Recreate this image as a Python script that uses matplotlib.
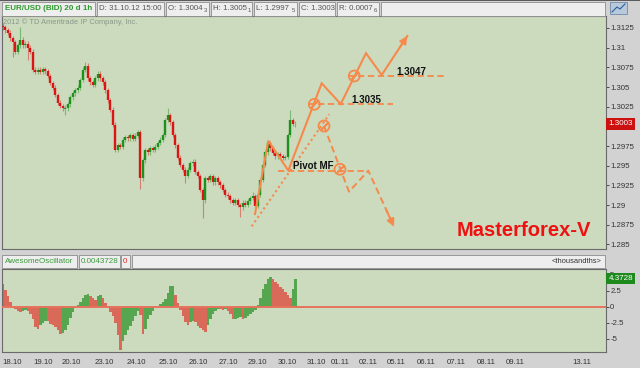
import matplotlib
matplotlib.use('Agg')
import matplotlib.pyplot as plt
import matplotlib.transforms as mtrans
from matplotlib.patches import Rectangle
import numpy as np

plt.rcParams['font.family'] = ['Liberation Sans', 'DejaVu Sans']

# ---------------- data ----------------
first_open = 1.3128
closes = [1.3126, 1.3122, 1.3119, 1.3112, 1.3107, 1.3095, 1.3103, 1.3110, 1.3103, 1.3105,
          1.3100, 1.3095, 1.3072, 1.3069, 1.3072, 1.3069, 1.3073, 1.3070, 1.3064, 1.3055,
          1.3049, 1.3040, 1.3030, 1.3026, 1.3023, 1.3023, 1.3028, 1.3037, 1.3042, 1.3046,
          1.3049, 1.3059, 1.3072, 1.3077, 1.3061, 1.3056, 1.3053, 1.3061, 1.3067, 1.3061,
          1.3056, 1.3046, 1.3033, 1.3021, 1.3002, 1.2970, 1.2976, 1.2974, 1.2983, 1.2986,
          1.2985, 1.2989, 1.2984, 1.2988, 1.2993, 1.2934, 1.2957, 1.2970, 1.2967, 1.2972,
          1.2970, 1.2974, 1.2979, 1.2983, 1.2989, 1.3008, 1.3014, 1.3005, 1.2989, 1.2976,
          1.2960, 1.2951, 1.2945, 1.2937, 1.2945, 1.2953, 1.2955, 1.2942, 1.2937, 1.2919,
          1.2906, 1.2934, 1.2932, 1.2937, 1.2929, 1.2934, 1.2929, 1.2925, 1.2919, 1.2913,
          1.2911, 1.2906, 1.2903, 1.2906, 1.2900, 1.2897, 1.2903, 1.2900, 1.2905, 1.2909,
          1.2911, 1.2899, 1.2913, 1.2932, 1.2951, 1.2967, 1.2979, 1.2972, 1.2966, 1.2962,
          1.2965, 1.2962, 1.2960, 1.2961, 1.2989, 1.3008, 1.3003, 1.3003]
spike_idx = [4, 7, 10, 25, 33, 55, 66, 73, 80, 95, 100, 115]
spike_val = [1.3088, 1.3126, 1.3084, 1.3014, 1.3082, 1.2921, 1.3023, 1.2928, 1.2883, 1.2885, 1.2917, 1.3021]

ao = [3.6, 2.6, 1.6, 0.7, 0.1, -0.3, -0.6, -0.8, -0.7, -0.5,
      -0.7, -1.2, -2.0, -3.1, -3.5, -2.8, -2.5, -2.2, -2.3, -2.7,
      -2.9, -3.2, -3.7, -4.2, -4.1, -3.6, -2.8, -1.8, -0.9, -0.2,
      0.3, 0.8, 1.3, 1.8, 1.95, 1.7, 1.4, 1.1, 1.7, 1.9,
      1.4, 0.5, -0.2, -0.8, -1.5, -2.6, -4.4, -6.7, -5.4, -4.5,
      -3.7, -3.0, -2.2, -1.5, -0.7, -1.3, -4.2, -3.5, -2.0, -1.3,
      -0.7, -0.1, 0.1, 0.4, 0.7, 1.2, 2.2, 3.2, 3.2, 1.9,
      0.5, -0.5, -1.5, -2.4, -2.8, -2.4, -2.2, -2.4, -3.0, -3.3,
      -3.7, -4.0, -2.8, -1.9, -1.1, -0.6, -0.3, -0.4, -0.5, -0.4,
      -0.6, -1.2, -2.0, -2.0, -1.8, -1.6, -1.9, -1.7, -1.5, -1.2,
      -0.9, -0.5, 0.2, 1.3, 2.7, 3.6, 4.3, 4.7, 4.3, 3.9,
      3.5, 3.0, 2.7, 2.3, 1.9, 1.3, 2.8, 4.3728]

date_labels = ['18.10', '19.10', '20.10', '23.10', '24.10', '25.10', '26.10', '27.10', '29.10',
               '30.10', '31.10', '01.11', '02.11', '05.11', '06.11', '07.11', '08.11', '09.11', '13.11']
date_pos = [0, 1.033, 1.977, 3.077, 4.167, 5.22, 6.22, 7.22, 8.187, 9.187, 10.143, 10.943,
            11.887, 12.81, 13.81, 14.81, 15.81, 16.777, 19.0]
price_ticks = [1.3125, 1.31, 1.3075, 1.305, 1.3025, 1.2975, 1.295, 1.2925, 1.29, 1.2875, 1.285]
ao_ticks = [5, 2.5, 0, -2.5, -5]
last_price = 1.3003
last_ao = 4.3728

# hand-drawn forecast annotation (day units / price)
wave_d = [8.111, 8.553, 9.22, 10.333, 10.967, 11.81, 12.333, 13.187]
wave_p = [1.28887, 1.29818, 1.29439, 1.30547, 1.30284, 1.30929, 1.30653, 1.31148]
down_d = [10.41, 11.243, 11.887, 12.743]
down_p = [1.30005, 1.2917, 1.29437, 1.28725]
dot_d = [8.0, 10.587]
dot_p = [1.2873, 1.30153]
lvl_p = [1.29437, 1.30284, 1.30644]
lvl_d0 = [8.877, 9.877, 11.21]
lvl_d1 = [11.877, 12.71, 14.44]
circ_d = [10.087, 11.42, 10.41, 10.943]
circ_p = [1.30280, 1.30640, 1.30005, 1.29455]
note_text = ['Pivot MF', '1.3035', '1.3047']
note_d = [10.043, 11.83, 13.333]
note_p = [1.2950, 1.30335, 1.30687]

# ---------------- style ----------------
W, H = 640, 368
BG = '#ccdabe'
GREEN = '#1c921c'
RED = '#dc1414'
ORANGE = '#f58a4b'
X0 = -0.29
BARS_PER_DAY = 12
XMIN, XMAX = -0.3233, 19.81
WICK = 0.0003        # drawn whisker length (style)
MIN_BODY = 0.00012   # minimum visible body (style)

fig = plt.figure(figsize=(W / 100, H / 100), dpi=100)
fig.patch.set_facecolor('#d2d2d2')


def fx(px):
    return px / W


def fy(py):
    return 1 - py / H


def fbox(x0, y0, x1, y1, fc='#eeeeee', ec='#8c8c8c', lw=0.6):
    fig.add_artist(Rectangle((fx(x0), fy(y1)), fx(x1) - fx(x0), fy(y0) - fy(y1),
                             transform=fig.transFigure, fc=fc, ec=ec, lw=lw))


def ftext(px, py, s, **kw):
    fig.text(fx(px), fy(py), s, va='center', **kw)


# top line
fbox(0, 0, 640, 1, fc='#5a5a5a', ec='none')

# ---------------- header ----------------
HY0, HY1 = 2.5, 15.5
hdr = [(2, 95), (97, 164), (166, 209), (211, 252), (254, 297), (299, 335), (337, 379), (381, 605)]
for a, b in hdr:
    fbox(a, HY0, b, HY1)
HC = (HY0 + HY1) / 2
ftext(5, HC, 'EUR/USD (BID) 20 d 1h', color='#2e9a2e', fontsize=5.8, fontweight='bold')
ftext(99, HC, 'D: 31.10.12 15:00', color='#555555', fontsize=5.7)
for (a, b), main, sub in zip(hdr[2:7], ['O: 1.3004', 'H: 1.3005', 'L: 1.2997', 'C: 1.3003', 'R: 0.0007'],
                             ['3', '1', '5', '', '6']):
    ftext(a + 2, HC, main, color='#555555', fontsize=5.7)
    if sub:
        ftext(b - 1.5, HC + 1.5, sub, color='#555555', fontsize=4.2, ha='right')
# small icon
fbox(610, 2, 627, 14, fc='#b9c9dc', ec='#6f8aaa', lw=0.6)
fig.add_artist(plt.Line2D([fx(612), fx(617), fx(620), fx(625)], [fy(12), fy(7), fy(9), fy(4)],
                          transform=fig.transFigure, color='#2a5fa0', lw=0.8))

# ---------------- main price panel ----------------
ax = fig.add_axes([fx(2), fy(249), fx(606) - fx(2), fy(16) - fy(249)])
ax.set_facecolor(BG)
ax.set_xlim(XMIN, XMAX)
ax.set_ylim(1.28442, 1.31402)

n = len(closes)
xs = X0 + np.arange(n) / BARS_PER_DAY
c = np.array(closes)
o = np.array([first_open] + closes[:-1])
lo = np.minimum(o, c)
hi = np.maximum(o, c)
mid = (lo + hi) / 2
lo = np.minimum(lo, mid - MIN_BODY / 2)
hi = np.maximum(hi, mid + MIN_BODY / 2)
cols = np.where(c >= o, GREEN, RED)
wlo = lo - WICK
whi = hi + WICK
for k, v in zip(spike_idx, spike_val):
    wlo[k] = min(wlo[k], v)
    whi[k] = max(whi[k], v)
ax.vlines(xs, wlo, whi, colors=cols, lw=0.8, alpha=0.45, zorder=2)
ax.vlines(xs, lo, hi, colors=cols, lw=1.7, zorder=3)

# annotation
ax.plot(dot_d, dot_p, color=ORANGE, lw=1.5, ls=(0, (1, 1.5)), zorder=4)
ax.plot(wave_d, wave_p, color=ORANGE, lw=1.5, zorder=4, solid_joinstyle='miter')
ax.plot(down_d, down_p, color=ORANGE, lw=1.4, ls=(0, (3.5, 2)), zorder=4)
for p, d0, d1 in zip(lvl_p, lvl_d0, lvl_d1):
    ax.plot([d0, d1], [p, p], color=ORANGE, lw=1.3, ls=(0, (3.5, 2)), zorder=4)
for dd, pp in [(wave_d, wave_p), (down_d, down_p)]:
    tip = (dd[-1], pp[-1])
    tail = (dd[-1] - 0.3 * (dd[-1] - dd[-2]), pp[-1] - 0.3 * (pp[-1] - pp[-2]))
    ax.annotate('', xy=tip, xytext=tail,
                arrowprops=dict(arrowstyle='-|>', color=ORANGE, lw=1.4, mutation_scale=11,
                                shrinkA=0, shrinkB=0), zorder=5)
ax.scatter(circ_d, circ_p, s=62, facecolors='none', edgecolors=ORANGE, linewidths=1.3, zorder=5)
ax.scatter(circ_d, circ_p, s=40, marker=(2, 2, -45), color=ORANGE, linewidths=1.1, zorder=5)
for t, d, p in zip(note_text, note_d, note_p):
    ax.text(d, p, t, ha='center', va='center', fontsize=7, fontweight='bold', color='#111111', zorder=6)

ax.text(17.08, 1.28674, 'Masterforex-V', ha='center', va='center', color='#ee1111',
        fontsize=14.5, fontweight='bold', zorder=6)
ax.text(0.002, 0.975, '2012 \u00a9 TD Ameritrade IP Company, Inc.', transform=ax.transAxes,
        ha='left', va='center', fontsize=5.4, color='#8a9a8a')

ax.yaxis.tick_right()
ax.set_yticks(price_ticks)
ax.set_yticklabels([f'{v:g}' for v in price_ticks])
ax.tick_params(axis='y', labelsize=5.6, colors='#333333', length=2, pad=1, width=0.6)
ax.set_xticks([])
for s in ax.spines.values():
    s.set_color('#6a6a6a')
    s.set_linewidth(0.8)
bt = mtrans.blended_transform_factory(ax.transAxes, ax.transData)
ax.text(1.004, last_price, '1.3003', transform=bt, ha='left', va='center', color='white',
        fontsize=5.8, clip_on=False, zorder=10,
        bbox=dict(boxstyle='square,pad=0.25', fc='#cc1111', ec='none'))

# ---------------- oscillator ----------------
OY0, OY1 = 255, 268
fbox(2, OY0, 77, OY1)
fbox(79, OY0, 120, OY1)
fbox(121, OY0, 130, OY1)
fbox(132, OY0, 605, OY1)
OC = (OY0 + OY1) / 2
ftext(5, OC, 'AwesomeOscillator', color='#3a9a3a', fontsize=5.8)
ftext(81, OC, '0.0043728', color='#3a9a3a', fontsize=5.8)
ftext(123, OC, '0', color='#e02020', fontsize=5.8)
ftext(601, OC, '<thousandths>', color='#333333', fontsize=5.4, ha='right')

ax2 = fig.add_axes([fx(2), fy(352), fx(606) - fx(2), fy(269) - fy(352)])
ax2.set_facecolor(BG)
ax2.set_xlim(XMIN, XMAX)
ax2.set_ylim(-7.08, 5.89)
aov = np.array(ao)
ao_cols = ['#56a650' if i == 0 or aov[i] >= aov[i - 1] else '#d96a5a' for i in range(len(aov))]
ax2.bar(xs, aov, width=1 / BARS_PER_DAY, color=ao_cols, linewidth=0, zorder=2)
ax2.axhline(0, color='#e6735c', lw=1.4, zorder=3)
ax2.yaxis.tick_right()
ax2.set_yticks(ao_ticks)
ax2.set_yticklabels(['5', '2.5', '0', '-2.5', '-5'])
ax2.tick_params(axis='y', labelsize=5.6, colors='#333333', length=2, pad=1, width=0.6)
ax2.set_xticks(date_pos)
ax2.set_xticklabels(date_labels)
ax2.tick_params(axis='x', labelsize=5.6, colors='#333333', length=0, pad=5)
for s in ax2.spines.values():
    s.set_color('#6a6a6a')
    s.set_linewidth(0.8)
bt2 = mtrans.blended_transform_factory(ax2.transAxes, ax2.transData)
ax2.text(1.004, last_ao, '4.3728', transform=bt2, ha='left', va='center', color='white',
         fontsize=5.8, clip_on=False, zorder=10,
         bbox=dict(boxstyle='square,pad=0.25', fc='#1e8a1e', ec='none'))

fig.savefig('out.png', dpi=100, facecolor=fig.get_facecolor())
